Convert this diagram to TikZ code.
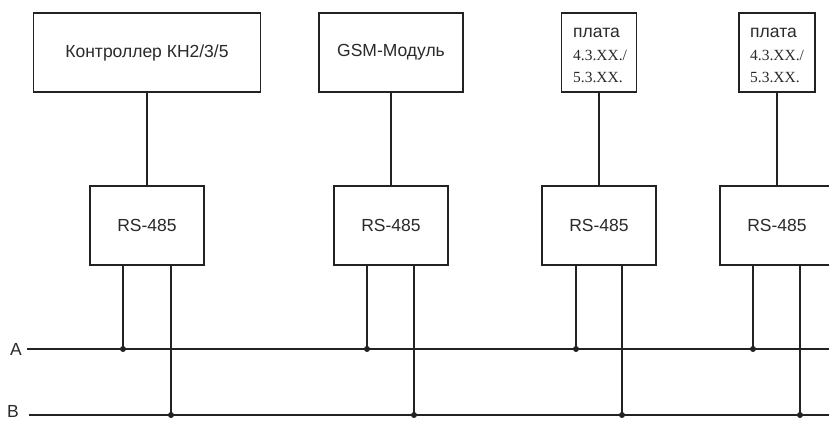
\documentclass[tikz,border=0pt]{standalone}
\usepackage{fontspec}
\setmainfont{Liberation Sans}
\newfontfamily\serifnum{Liberation Serif}
\definecolor{lineC}{HTML}{222222}
\definecolor{txtC}{HTML}{2A2A2A}
\begin{document}
\begin{tikzpicture}[x=1pt,y=-1pt]
\tikzset{
  blk/.style={draw=lineC, line width=1.6pt, inner sep=0pt, minimum height=79pt,
    font=\fontsize{17.5}{20}\selectfont, text=txtC},
  wire/.style={draw=lineC, line width=1.6pt},
  tap/.style={circle, fill=lineC, inner sep=0pt, minimum size=6pt},
  lbl/.style={inner sep=0pt, font=\fontsize{17.5}{20}\selectfont, text=txtC},
  sertxt/.style={inner sep=0pt, font=\serifnum\fontsize{15.5}{20}\selectfont, text=txtC},
}
\useasboundingbox (0,0) rectangle (829,421);
\clip (0,0) rectangle (829,421);
\fill[white] (0,0) rectangle (829,421);

% top devices
\node[blk, minimum width=227pt] (ctrl) at (147,52.5) {Контроллер КН2/3/5};
\node[blk, minimum width=144pt] (gsm) at (391,52.5) {GSM-Модуль};
\node[blk, minimum width=75pt] (pl1) at (599,52.5) {};
\node[blk, minimum width=76pt] (pl2) at (777,52.5) {};
\node[lbl, anchor=base west] (pl1a) at (573,37.5) {плата};
\node[sertxt, anchor=base west] (pl1b) at (573,60) {4.3.XX./};
\node[sertxt, anchor=base west] (pl1c) at (573,82) {5.3.XX.};
\node[lbl, anchor=base west] (pl2a) at (750,37.5) {плата};
\node[sertxt, anchor=base west] (pl2b) at (750,60) {4.3.XX./};
\node[sertxt, anchor=base west] (pl2c) at (750,82) {5.3.XX.};

% RS-485 interfaces
\node[blk, minimum width=114pt] (rs1) at (147,225.5) {RS-485};
\node[blk, minimum width=114pt] (rs2) at (391,225.5) {RS-485};
\node[blk, minimum width=114pt] (rs3) at (599,225.5) {RS-485};
\node[blk, minimum width=114pt] (rs4) at (777,225.5) {RS-485};

\draw[wire] (ctrl.south) -- (rs1.north);
\draw[wire] (gsm.south) -- (rs2.north);
\draw[wire] (pl1.south) -- (rs3.north);
\draw[wire] (pl2.south) -- (rs4.north);

% bus
\node[lbl] (la) at (16,349) {A};
\node[lbl] (lb) at (13,411) {B};
\coordinate (As) at (27,349);
\coordinate (Ae) at (829,349);
\coordinate (Bs) at (29,415);
\coordinate (Be) at (829,415);
\draw[wire] (As) -- (Ae);
\draw[wire] (Bs) -- (Be);

% taps
\foreach \n/\xa/\xb in {1/123/171, 2/367/414, 3/576/622, 4/753/800}{
  \coordinate (a\n) at (\xa,349);
  \coordinate (b\n) at (\xb,415);
  \draw[wire] (a\n |- rs\n.south) -- (a\n);
  \draw[wire] (b\n |- rs\n.south) -- (b\n);
  \node[tap] (da\n) at (a\n) {};
  \node[tap] (db\n) at (b\n) {};
}
\end{tikzpicture}
\end{document}
